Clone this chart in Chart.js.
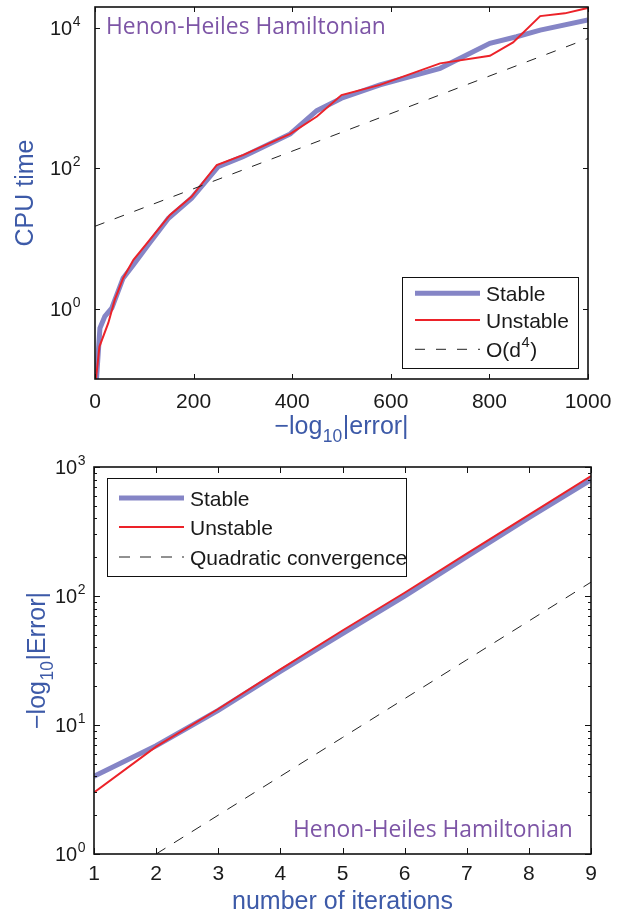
<!DOCTYPE html>
<html><head><meta charset="utf-8">
<script src="https://cdn.jsdelivr.net/npm/chart.js@4.4.0/dist/chart.umd.min.js"></script>
<style>
html,body{margin:0;padding:0;background:#fff;width:634px;height:913px;overflow:hidden}
canvas{position:absolute;left:0;top:0}
</style></head>
<body>
<canvas id="c1" width="634" height="913"></canvas>
<canvas id="c2" width="634" height="913"></canvas>
<script>
// ---------- Top panel data ----------
const topStableX   = [3,10,20,34,57,78,108,149,196,250,300,396,450,500,578,700,801,855,903,1000];
const topStableY   = [0.1,0.53,0.78,1.02,2.73,4.23,8.15,19.5,37.7,106,147,310,665,1000,1550,2670,6060,7520,9350,13000];
const topUnstableX = [2,9,27,40,57,78,111,152,196,247,300,396,450,500,578,700,801,848,903,953,1000];
const topUnstableY = [0.1,0.29,0.63,1.34,2.73,4.98,9.6,21.8,39.7,112,155,310,550,1110,1550,3140,4030,6250,14800,16200,19400];
const topRefX = [0,1000];
const topRefY = [15,7100];
const topXTicks = [0,200,400,600,800,1000];
const topYTicks = [1,100,10000];
const topYTickLabels = ['10^{0}','10^{2}','10^{4}'];
const topLabels = ['Stable','Unstable','O(d^{4})'];

// ---------- Bottom panel data ----------
const botX = [1,2,3,4,5,6,7,8,9];
const botStable   = [4.0,6.9,13,26,51,100,202,405,795];
const botUnstable = [3.0,6.8,13.3,27,54,106,213,425,850];
const botRefX = [2,3,4,5,6,7,8,9];
const botRefY = [1,2,4,8,16,32,64,128];
const botXTicks = [1,2,3,4,5,6,7,8,9];
const botYTicks = [1,10,100,1000];
const botYTickLabels = ['10^{0}','10^{1}','10^{2}','10^{3}'];
const botLabels = ['Stable','Unstable','Quadratic convergence'];

const FAM = '"Liberation Sans", Arial, Helvetica, sans-serif';
const TFAM = '"Open Sans", "Noto Sans", sans-serif';
const STABLE_C = '#8585c6', RED_C = '#ec2229', BLUE_T = '#3d5aa8', PURPLE = '#7d55a6';

function pts(xs, ys){ return xs.map((x,i)=>({x:x, y:ys[i]})); }

function parseRich(str){
  const parts=[]; const re=/([\^_])\{([^}]*)\}/g; let last=0,m;
  while((m=re.exec(str))){
    if(m.index>last) parts.push({t:str.slice(last,m.index),k:0});
    parts.push({t:m[2],k:m[1]==='^'?1:-1}); last=re.lastIndex;
  }
  if(last<str.length) parts.push({t:str.slice(last),k:0});
  return parts;
}
function drawRich(ctx,str,x,y,fs,align,fam,color){
  const parts=parseRich(str);
  let w=0;
  for(const p of parts){ ctx.font=(p.k?fs*0.7:fs)+'px '+fam; w+=ctx.measureText(p.t).width+(p.k?1:0); }
  let cx = align==='center'? x-w/2 : align==='right'? x-w : x;
  ctx.fillStyle=color; ctx.textAlign='left'; ctx.textBaseline='alphabetic';
  for(const p of parts){
    const f=p.k?fs*0.7:fs; ctx.font=f+'px '+fam;
    const dy = p.k===1? -fs*0.45 : (p.k===-1? fs*0.3 : 0);
    if(p.k) cx+=0.5;
    ctx.fillText(p.t,cx,y+dy);
    cx+=ctx.measureText(p.t).width+(p.k?0.5:0);
  }
}

function framePlugin(spec){
  return {
    id:'frame'+spec.id,
    afterDatasetsDraw(chart){
      const ctx=chart.ctx, a=chart.chartArea, xs=chart.scales.x, ys=chart.scales.y;
      ctx.save();
      // ticks
      ctx.strokeStyle='#111'; ctx.lineWidth=1; ctx.setLineDash([]);
      ctx.beginPath();
      spec.xTicks.forEach(v=>{ const px=Math.round(xs.getPixelForValue(v))+0.5;
        ctx.moveTo(px,a.bottom); ctx.lineTo(px,a.bottom-spec.tl);
        ctx.moveTo(px,a.top); ctx.lineTo(px,a.top+spec.tl); });
      spec.yTicks.forEach(v=>{ const py=Math.round(ys.getPixelForValue(v))+0.5;
        ctx.moveTo(a.left,py); ctx.lineTo(a.left+spec.tl,py);
        ctx.moveTo(a.right,py); ctx.lineTo(a.right-spec.tl,py); });
      (spec.yMinor||[]).forEach(v=>{ const py=Math.round(ys.getPixelForValue(v))+0.5;
        ctx.moveTo(a.left,py); ctx.lineTo(a.left+3,py);
        ctx.moveTo(a.right,py); ctx.lineTo(a.right-3,py); });
      ctx.stroke();
      // box
      ctx.lineWidth=1.6; ctx.strokeStyle='#111';
      ctx.strokeRect(a.left,a.top,a.right-a.left,a.bottom-a.top);
      // tick labels
      ctx.fillStyle='#1a1a1a';
      spec.xTicks.forEach(v=>{ drawRich(ctx,String(v),xs.getPixelForValue(v),spec.xLabY,21,'center',FAM,'#1a1a1a'); });
      spec.yTicks.forEach((v,i)=>{ drawRich(ctx,spec.yTickLabels[i],spec.yLabRight,ys.getPixelForValue(v)+7,20,'right',FAM,'#1a1a1a'); });
      // axis titles
      drawRich(ctx,spec.xTitle,(a.left+a.right)/2,spec.xTitleY,25,'center',FAM,BLUE_T);
      ctx.save(); ctx.translate(spec.yTitleX,(a.top+a.bottom)/2); ctx.rotate(-Math.PI/2);
      drawRich(ctx,spec.yTitle,0,0,25,'center',FAM,BLUE_T); ctx.restore();
      // annotation
      ctx.font='100px '+TFAM; const w100=ctx.measureText('Henon-Heiles Hamiltonian').width;
      const fsT=100*spec.annW/w100;
      drawRich(ctx,'Henon-Heiles Hamiltonian',spec.annX,spec.annY,fsT,'left',TFAM,PURPLE);
      // legend
      const L=spec.legend;
      ctx.fillStyle='#fff'; ctx.fillRect(L.box[0],L.box[1],L.box[2]-L.box[0],L.box[3]-L.box[1]);
      ctx.lineWidth=1; ctx.strokeStyle='#111';
      ctx.strokeRect(L.box[0]+0.5,L.box[1]+0.5,L.box[2]-L.box[0],L.box[3]-L.box[1]);
      chart.data.datasets.forEach((ds,i)=>{
        const y=L.ys[i];
        ctx.beginPath(); ctx.strokeStyle=ds.borderColor; ctx.lineWidth=ds.borderWidth;
        ctx.setLineDash(ds.borderDash||[]); ctx.moveTo(L.x0,y); ctx.lineTo(L.x1,y); ctx.stroke();
        ctx.setLineDash([]);
        drawRich(ctx,ds.label,L.tx,y+7.5,21,'left',FAM,'#1a1a1a');
      });
      ctx.restore();
    }
  };
}

function makeChart(id, datasets, scales, padding, spec){
  return new Chart(document.getElementById(id),{
    type:'line',
    data:{datasets:datasets},
    options:{
      responsive:false, animation:false, devicePixelRatio:1,
      layout:{padding:padding},
      plugins:{legend:{display:false},tooltip:{enabled:false}},
      elements:{point:{radius:0},line:{tension:0}},
      scales:scales
    },
    plugins:[framePlugin(spec)]
  });
}

// Top chart
makeChart('c1',[
  {label:topLabels[0],data:pts(topStableX,topStableY),borderColor:STABLE_C,borderWidth:5,order:3,fill:false},
  {label:topLabels[1],data:pts(topUnstableX,topUnstableY),borderColor:RED_C,borderWidth:2,order:2,fill:false},
  {label:topLabels[2],data:pts(topRefX,topRefY),borderColor:'#222',borderWidth:1,borderDash:[10,11],order:1,fill:false}
],{
  x:{type:'linear',min:0,max:1000,display:false},
  y:{type:'logarithmic',min:0.1,max:Math.pow(10,4.3),display:false}
},{left:95,top:7,right:46,bottom:534},{
  id:1, xTicks:topXTicks, yTicks:topYTicks, yTickLabels:topYTickLabels, tl:5,
  xLabY:407.5, yLabRight:81, xTitle:'\u2212log_{10}|error|', xTitleY:434, yTitle:'CPU time', yTitleX:33,
  annX:106, annY:34, annW:280,
  legend:{box:[402,277,578,368], ys:[293.3,320,349.3], x0:415, x1:480, tx:486}
});

// Bottom chart
const minor=[]; [1,10,100].forEach(d=>{ for(let k=2;k<=9;k++) minor.push(k*d); });
makeChart('c2',[
  {label:botLabels[0],data:pts(botX,botStable),borderColor:STABLE_C,borderWidth:5,order:3,fill:false},
  {label:botLabels[1],data:pts(botX,botUnstable),borderColor:RED_C,borderWidth:2,order:2,fill:false},
  {label:botLabels[2],data:pts(botRefX,botRefY),borderColor:'#222',borderWidth:1,borderDash:[11,10],order:1,fill:false}
],{
  x:{type:'linear',min:1,max:9,display:false},
  y:{type:'logarithmic',min:1,max:1000,display:false}
},{left:94,top:467,right:43,bottom:59},{
  id:2, xTicks:botXTicks, yTicks:botYTicks, yTickLabels:botYTickLabels, yMinor:minor, tl:6,
  xLabY:879.5, yLabRight:86, xTitle:'number of iterations', xTitleY:909, yTitle:'\u2212log_{10}|Error|', yTitleX:45,
  annX:293, annY:837, annW:280,
  legend:{box:[107,478,406,576], ys:[498,527,557], x0:119, x1:184, tx:190}
});
</script>
</body></html>
